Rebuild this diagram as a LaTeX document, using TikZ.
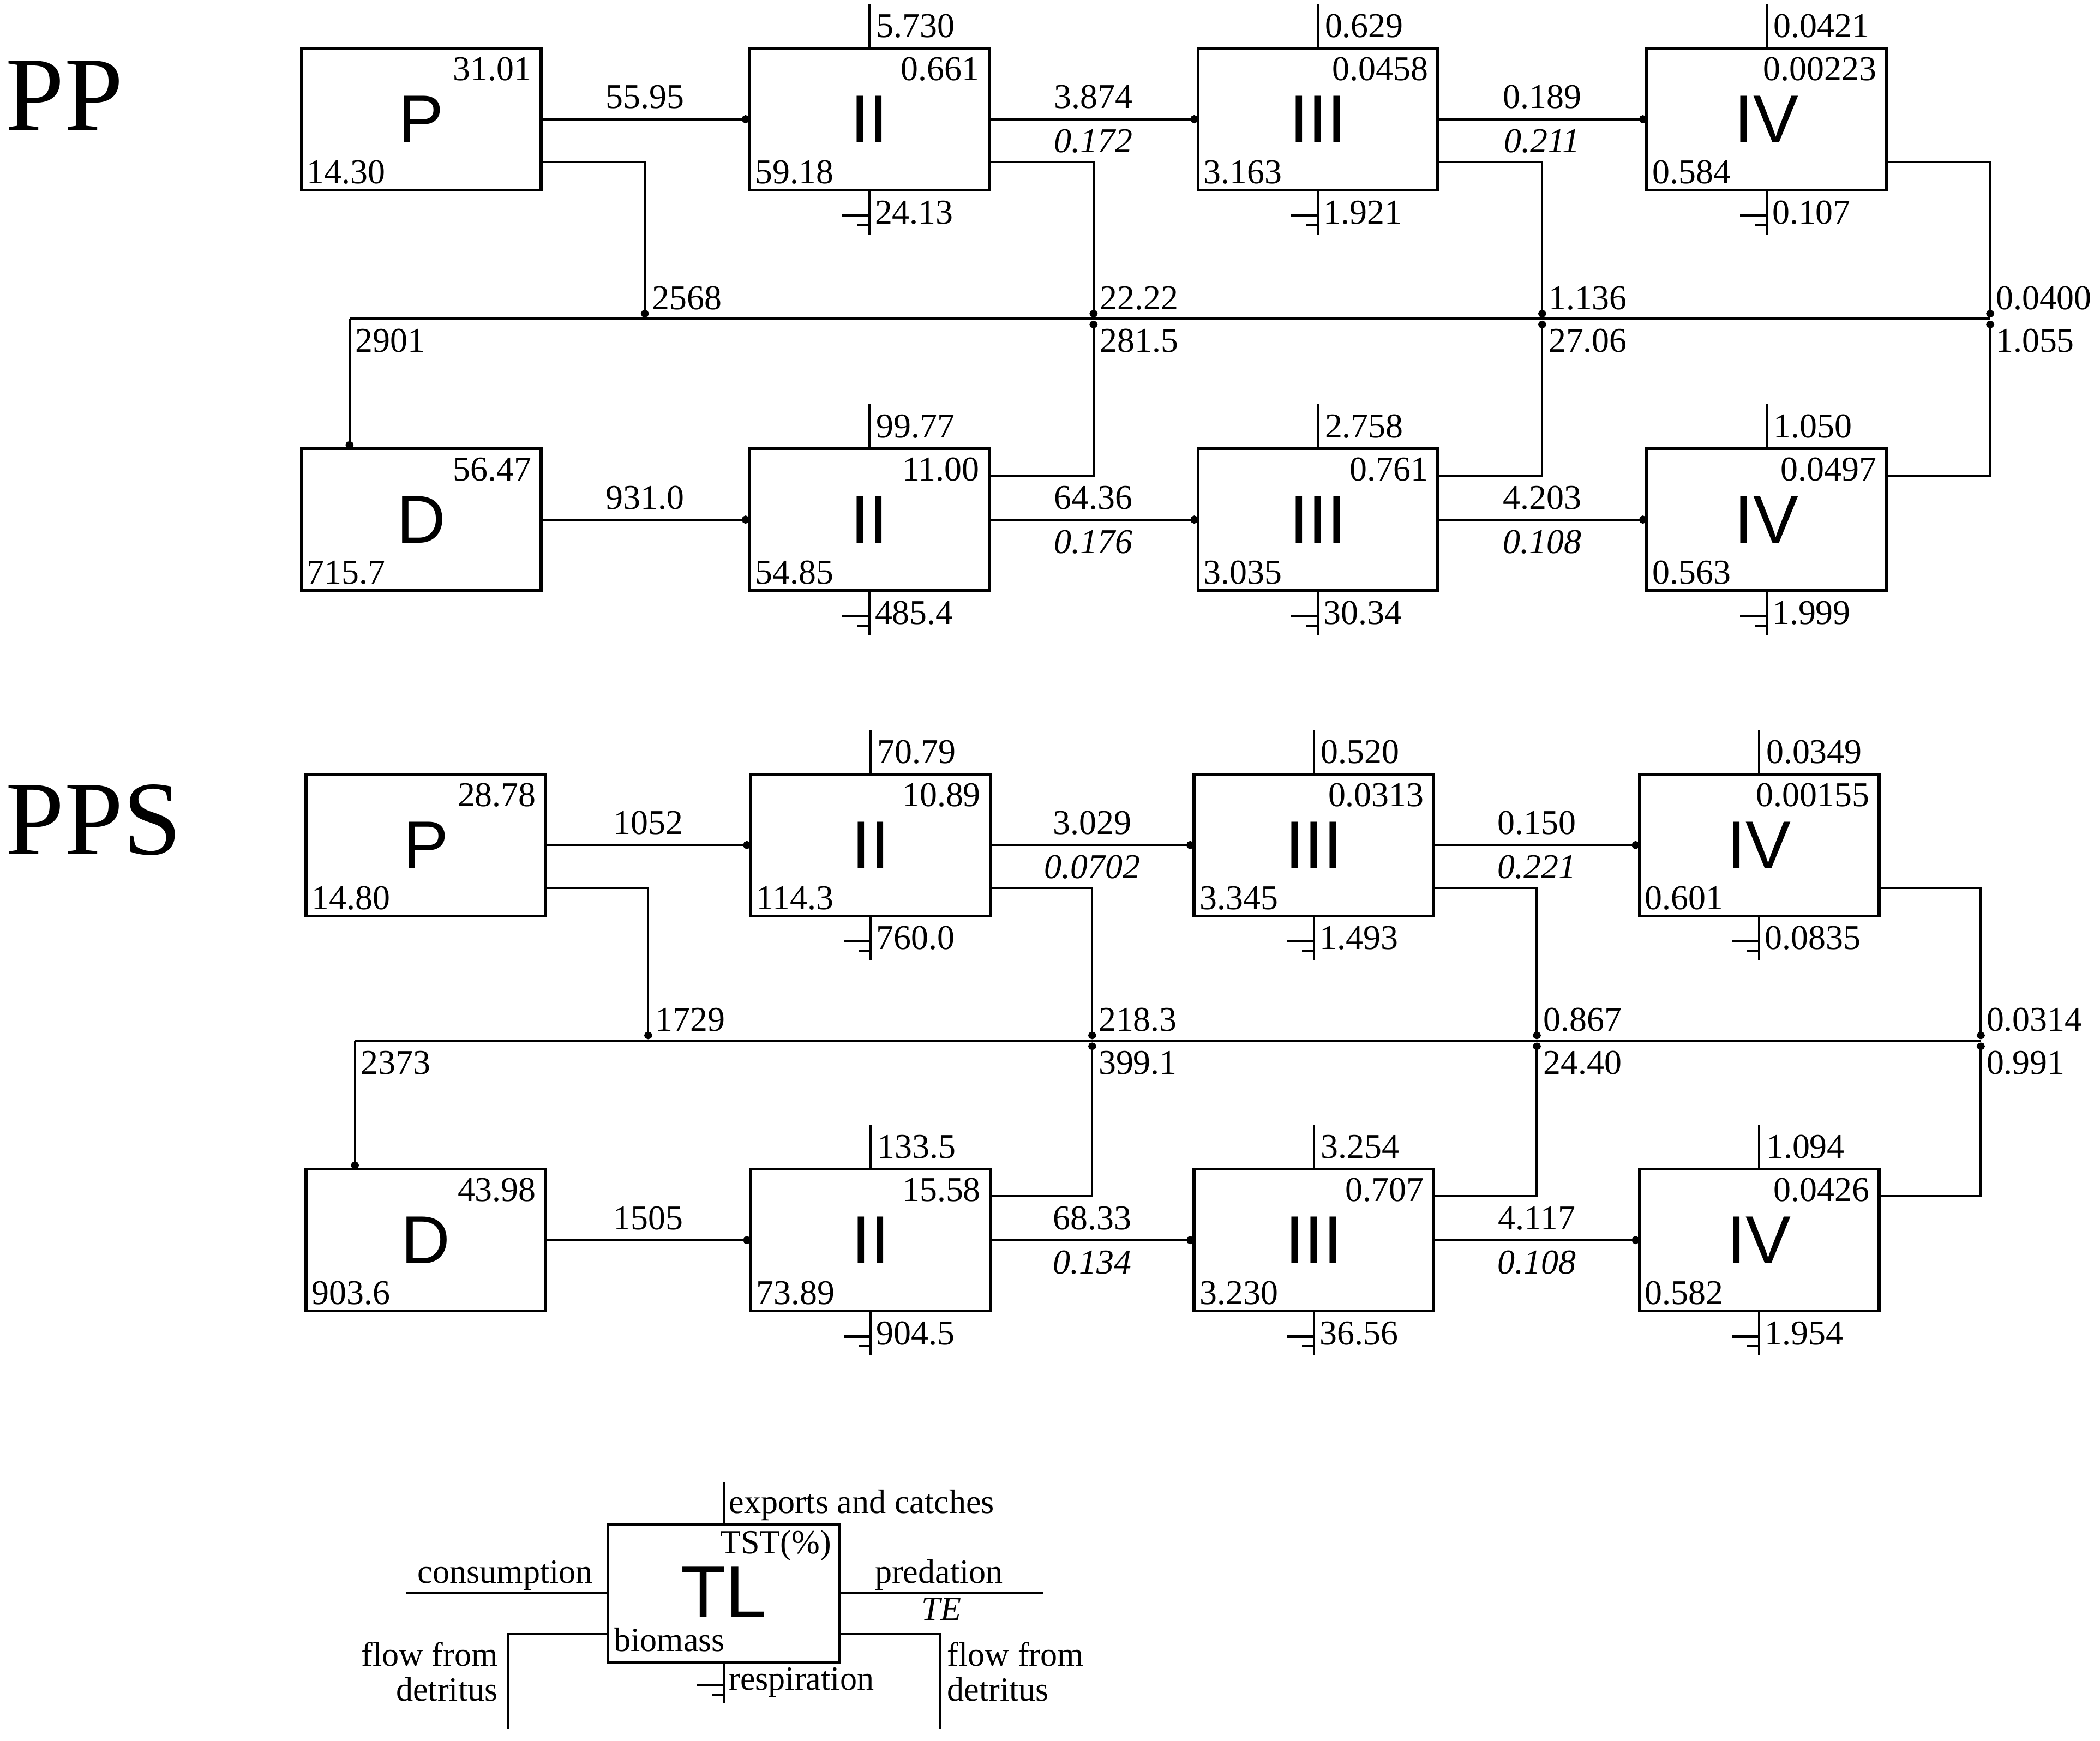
\documentclass[tikz,border=0pt]{standalone}
\usepackage{fontspec}
\setmainfont{Liberation Serif}
\newfontfamily\sansbig{Liberation Sans}
\usetikzlibrary{arrows.meta,calc}
\newcommand\numsize{\fontsize{18.5}{20}\selectfont}
\newcommand\legsize{\fontsize{18}{20}\selectfont}
\newcommand\bigsize{\sansbig\fontsize{36}{36}\selectfont}
\tikzset{
  tbox/.style={draw, line width=1.5pt, outer sep=0pt, inner sep=0pt,
    minimum width=4.475cm, minimum height=2.65cm, font=\bigsize},
  num/.style={inner sep=0pt, font=\numsize},
  inum/.style={inner sep=0pt, font=\numsize\itshape},
  leg/.style={inner sep=0pt, font=\legsize},
  flow/.style={line width=1.2pt},
  arr/.style={flow, -{Circle[length=0.14cm,width=0.15cm]}},
  title/.style={inner sep=0pt, font=\fontsize{56}{56}\selectfont}
}
% box: name, cx, cy, letter, top-right value, bottom-left value
\newcommand\tbx[6]{%
  \node[tbox] (#1) at (#2,#3) {#4};
  \node[num, anchor=base east] (#1tr) at ($(#1.north east)+(-7,24)$) {#5};
  \node[num, anchor=base west] (#1bl) at ($(#1.south west)+(4,-5)$) {#6};
}
% exports: node, label
\newcommand\expo[2]{%
  \draw[flow] (#1.north) -- ++(0,-33);
  \node[num, anchor=base west] (#1ex) at ($(#1.north)+(5,-8)$) {#2};
}
% respiration: node, label
\newcommand\resp[2]{%
  \draw[flow] (#1.south) -- ++(0,33);
  \draw[flow] ($(#1.south)+(0,19)$) -- ++(-20,0);
  \draw[flow] ($(#1.south)+(0,26)$) -- ++(-9,0);
  \node[num, anchor=base west] (#1rs) at ($(#1.south)+(4,25)$) {#2};
}
% flow labels: name, x, line y, upper, lower (italic)
\newcommand\flab[5]{%
  \node[num, anchor=base] (#1u) at (#2,{#3-8}) {#4};
  \node[inum, anchor=base] (#1l) at (#2,{#3+25}) {#5};
}
\begin{document}
\begin{tikzpicture}[x=0.025cm, y=-0.025cm]
\useasboundingbox (0,0) rectangle (1568,1300);

% ===== PP =====
\node[title, anchor=base west] (tPP) at (4,97) {PP};
\tbx{p1}{314.5}{89}{P}{31.01}{14.30}
\tbx{a2}{649}{89}{II}{0.661}{59.18}
\tbx{a3}{984}{89}{III}{0.0458}{3.163}
\tbx{a4}{1319}{89}{IV}{0.00223}{0.584}
\tbx{d1}{314.5}{388}{D}{56.47}{715.7}
\tbx{b2}{649}{388}{II}{11.00}{54.85}
\tbx{b3}{984}{388}{III}{0.761}{3.035}
\tbx{b4}{1319}{388}{IV}{0.0497}{0.563}
\expo{a2}{5.730}\expo{a3}{0.629}\expo{a4}{0.0421}
\expo{b2}{99.77}\expo{b3}{2.758}\expo{b4}{1.050}
\resp{a2}{24.13}\resp{a3}{1.921}\resp{a4}{0.107}
\resp{b2}{485.4}\resp{b3}{30.34}\resp{b4}{1.999}

\draw[arr] (p1.east) -- (a2.west);
\draw[arr] (a2.east) -- (a3.west);
\draw[arr] (a3.east) -- (a4.west);
\draw[arr] (d1.east) -- (b2.west);
\draw[arr] (b2.east) -- (b3.west);
\draw[arr] (b3.east) -- (b4.west);
\node[num, anchor=base] (fa1) at (481.5,81) {55.95};
\flab{fa2}{816.5}{89}{3.874}{0.172}
\flab{fa3}{1151.5}{89}{0.189}{0.211}
\node[num, anchor=base] (fb1) at (481.5,380) {931.0};
\flab{fb2}{816.5}{388}{64.36}{0.176}
\flab{fb3}{1151.5}{388}{4.203}{0.108}

\coordinate (ds1) at (261,238);
\coordinate (de1) at (1486,238);
\coordinate (ja1) at (481.5,237);
\coordinate (ja2) at (816.5,237);
\coordinate (ja3) at (1151.5,237);
\coordinate (ja4) at (1486,237);
\coordinate (jb2) at (816.5,239.5);
\coordinate (jb3) at (1151.5,239.5);
\coordinate (jb4) at (1486,239.5);
\draw[flow] (ds1) -- (de1);
\draw[arr] (ds1) -- (ds1 |- d1.north);
\draw[arr] ($(p1.south east)+(0,-21)$) -| (ja1);
\draw[arr] ($(a2.south east)+(0,-21)$) -| (ja2);
\draw[arr] ($(a3.south east)+(0,-21)$) -| (ja3);
\draw[arr] ($(a4.south east)+(0,-21)$) -| (ja4);
\draw[arr] ($(b2.north east)+(0,20)$) -| (jb2);
\draw[arr] ($(b3.north east)+(0,20)$) -| (jb3);
\draw[arr] ($(b4.north east)+(0,20)$) -| (jb4);
\node[num, anchor=base west] (l2568) at (486.5,231) {2568};
\node[num, anchor=base west] (l2901) at (265,263) {2901};
\node[num, anchor=base west] (l2222) at (821,231) {22.22};
\node[num, anchor=base west] (l2815) at (821,263) {281.5};
\node[num, anchor=base west] (l1136) at (1156,231) {1.136};
\node[num, anchor=base west] (l2706) at (1156,263) {27.06};
\node[num, anchor=base west] (l0400) at (1490,231) {0.0400};
\node[num, anchor=base west] (l1055) at (1490,263) {1.055};

% ===== PPS =====
\node[title, anchor=base west] (tPPS) at (4,638) {PPS};
\tbx{q1}{318}{631}{P}{28.78}{14.80}
\tbx{c2}{650}{631}{II}{10.89}{114.3}
\tbx{c3}{981}{631}{III}{0.0313}{3.345}
\tbx{c4}{1313.5}{631}{IV}{0.00155}{0.601}
\tbx{e1}{318}{926}{D}{43.98}{903.6}
\tbx{f2}{650}{926}{II}{15.58}{73.89}
\tbx{f3}{981}{926}{III}{0.707}{3.230}
\tbx{f4}{1313.5}{926}{IV}{0.0426}{0.582}
\expo{c2}{70.79}\expo{c3}{0.520}\expo{c4}{0.0349}
\expo{f2}{133.5}\expo{f3}{3.254}\expo{f4}{1.094}
\resp{c2}{760.0}\resp{c3}{1.493}\resp{c4}{0.0835}
\resp{f2}{904.5}\resp{f3}{36.56}\resp{f4}{1.954}

\draw[arr] (q1.east) -- (c2.west);
\draw[arr] (c2.east) -- (c3.west);
\draw[arr] (c3.east) -- (c4.west);
\draw[arr] (e1.east) -- (f2.west);
\draw[arr] (f2.east) -- (f3.west);
\draw[arr] (f3.east) -- (f4.west);
\node[num, anchor=base] (fc1) at (484,623) {1052};
\flab{fc2}{815.5}{631}{3.029}{0.0702}
\flab{fc3}{1147.5}{631}{0.150}{0.221}
\node[num, anchor=base] (ff1) at (484,918) {1505};
\flab{ff2}{815.5}{926}{68.33}{0.134}
\flab{ff3}{1147.5}{926}{4.117}{0.108}

\coordinate (ds2) at (265,777);
\coordinate (de2) at (1479,777);
\coordinate (jc1) at (484,776);
\coordinate (jc2) at (815.5,776);
\coordinate (jc3) at (1147.5,776);
\coordinate (jc4) at (1479,776);
\coordinate (jf2) at (815.5,778.5);
\coordinate (jf3) at (1147.5,778.5);
\coordinate (jf4) at (1479,778.5);
\draw[flow] (ds2) -- (de2);
\draw[arr] (ds2) -- (ds2 |- e1.north);
\draw[arr] ($(q1.south east)+(0,-21)$) -| (jc1);
\draw[arr] ($(c2.south east)+(0,-21)$) -| (jc2);
\draw[arr] ($(c3.south east)+(0,-21)$) -| (jc3);
\draw[arr] ($(c4.south east)+(0,-21)$) -| (jc4);
\draw[arr] ($(f2.north east)+(0,20)$) -| (jf2);
\draw[arr] ($(f3.north east)+(0,20)$) -| (jf3);
\draw[arr] ($(f4.north east)+(0,20)$) -| (jf4);
\node[num, anchor=base west] (l1729) at (489,770) {1729};
\node[num, anchor=base west] (l2373) at (269,802) {2373};
\node[num, anchor=base west] (l2183) at (820,770) {218.3};
\node[num, anchor=base west] (l3991) at (820,802) {399.1};
\node[num, anchor=base west] (l0867) at (1152,770) {0.867};
\node[num, anchor=base west] (l2440) at (1152,802) {24.40};
\node[num, anchor=base west] (l0314) at (1483,770) {0.0314};
\node[num, anchor=base west] (l0991) at (1483,802) {0.991};

% ===== Legend =====
\node[tbox, minimum width=4.325cm, minimum height=2.575cm] (tl) at (540.5,1189.5) {};
\node[inner sep=0pt, font=\sansbig\fontsize{39}{39}\selectfont] (tltxt) at (540.5,1189) {TL};
\draw[flow] (tl.north) -- ++(0,-31);
\node[leg, anchor=base west] (lexp) at (544,1130) {exports and catches};
\node[leg, anchor=base east] (ltst) at (621,1160) {TST(\%)};
\node[leg, anchor=base west] (lbio) at (458,1233) {biomass};
\coordinate (cs) at (303,1189.5);
\coordinate (pe) at (779,1189.5);
\coordinate (lf) at (379,1291);
\coordinate (rf) at (702,1291);
\draw[flow] (cs) -- (tl.west);
\draw[flow] (tl.east) -- (pe);
\draw[flow] ($(tl.south west)+(0,-21)$) -| (lf);
\draw[flow] ($(tl.south east)+(0,-21)$) -| (rf);
\node[leg, anchor=base east] (lcons) at (443,1182) {consumption};
\node[leg, anchor=base west] (lpred) at (653,1182) {predation};
\node[leg, anchor=base, font=\legsize\itshape] (lte) at (703,1210) {TE};
\node[leg, anchor=base east] (lff1) at (372,1244) {flow from};
\node[leg, anchor=base east] (ldt1) at (372,1270) {detritus};
\node[leg, anchor=base west] (lff2) at (707,1244) {flow from};
\node[leg, anchor=base west] (ldt2) at (707,1270) {detritus};
\draw[flow] (tl.south) -- ++(0,31);
\draw[flow] ($(tl.south)+(0,17.5)$) -- ++(-20,0);
\draw[flow] ($(tl.south)+(0,24.5)$) -- ++(-9,0);
\node[leg, anchor=base west] (lresp) at (544,1262) {respiration};
\end{tikzpicture}
\end{document}
